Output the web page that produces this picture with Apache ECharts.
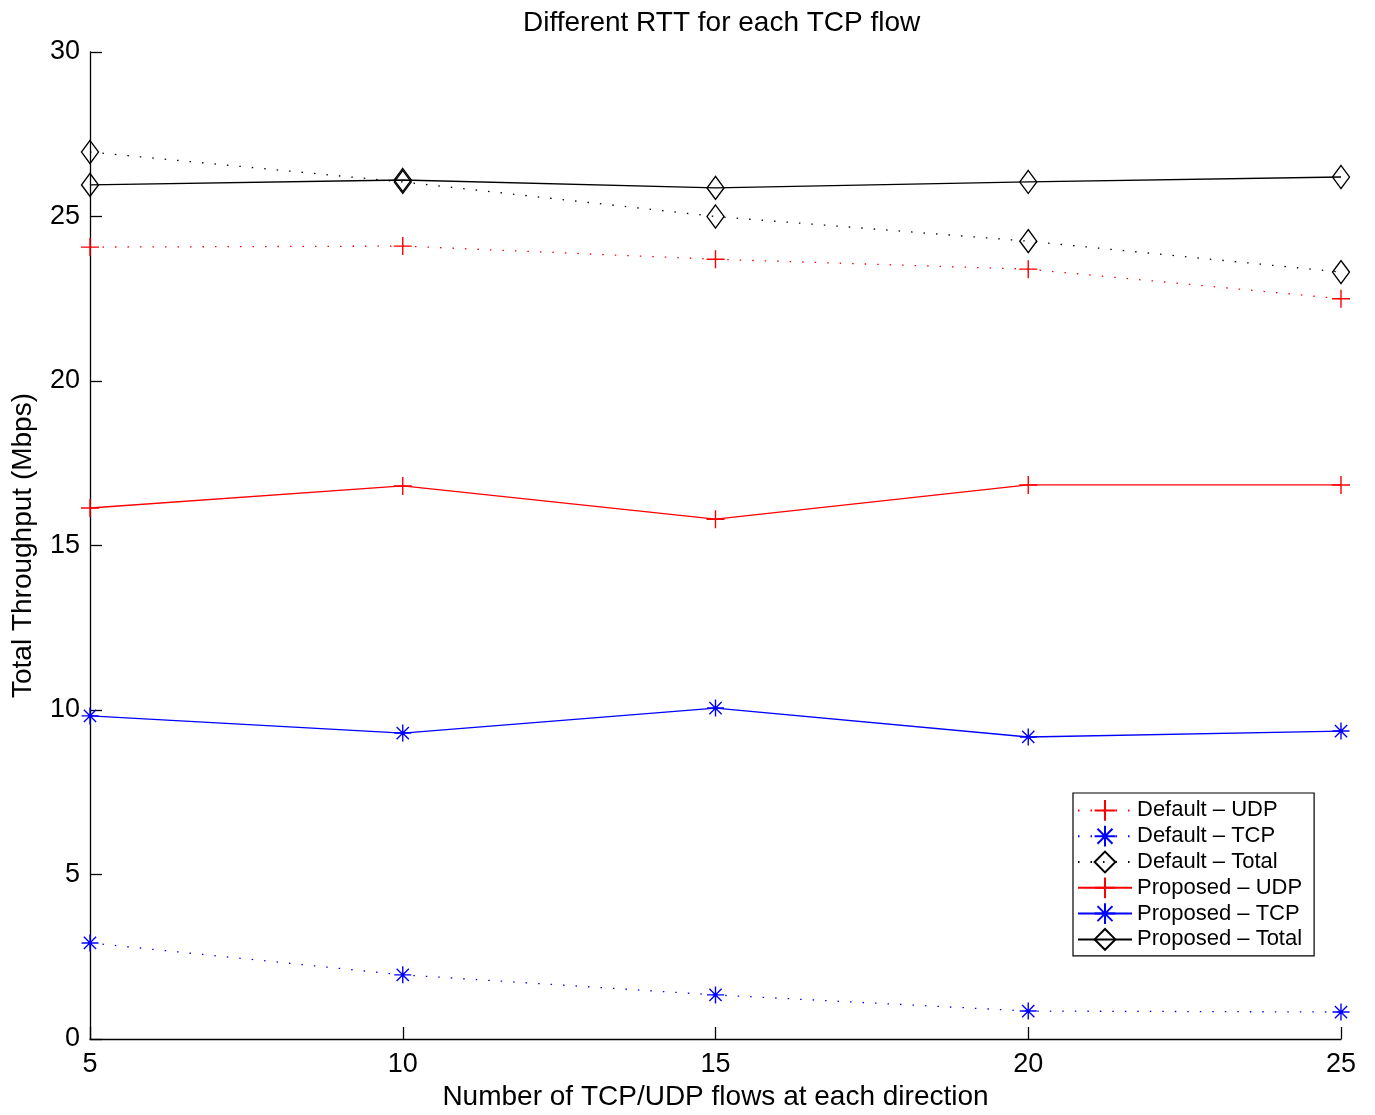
<!DOCTYPE html>
<html>
<head>
<meta charset="utf-8">
<script src="https://cdn.jsdelivr.net/npm/echarts@6/dist/echarts.min.js"></script>
<style>
  html, body { margin: 0; padding: 0; background: #fff; }
  #chart { width: 1375px; height: 1115px; }
</style>
</head>
<body>
<div id="chart"></div>
<script>
const flows = [5, 10, 15, 20, 25]
const defaultUdp = [24.07, 24.1, 23.7, 23.4, 22.5]
const defaultTcp = [2.92, 1.95, 1.34, 0.85, 0.82]
const defaultTotal = [26.96, 26.05, 25.0, 24.25, 23.31]
const proposedUdp = [16.14, 16.81, 15.8, 16.84, 16.84]
const proposedTcp = [9.82, 9.3, 10.06, 9.18, 9.36]
const proposedTotal = [25.96, 26.11, 25.87, 26.05, 26.2]

const FONT = 'Liberation Sans, Arial, sans-serif'
const PLUS = 'path://M0,-1L0,1M-1,0L1,0'
const STAR = 'path://M-1,0L1,0M0,-1L0,1M-0.72,-0.72L0.72,0.72M-0.72,0.72L0.72,-0.72'
const DOTS = [1.5, 11]

function pairs(vals) {
  return flows.map((x, i) => [x, vals[i]])
}

function makeSeries(name, vals, color, dotted, symbol, size) {
  return {
    name: name,
    type: 'line',
    data: pairs(vals),
    symbol: symbol,
    symbolSize: size,
    showAllSymbol: true,
    lineStyle: { color: color, width: 1.3, type: dotted ? DOTS : 'solid' },
    itemStyle: { color: 'rgba(0,0,0,0)', borderColor: color, borderWidth: 1.4 },
    emphasis: { disabled: true },
    animation: false
  }
}

const chart = echarts.init(document.getElementById('chart'))

chart.setOption({
  backgroundColor: '#fff',
  textStyle: { fontFamily: FONT },
  title: {
    text: 'Different RTT for each TCP flow',
    left: 518,
    top: 4,
    textStyle: { fontFamily: FONT, fontSize: 28, fontWeight: 'normal', color: '#000' }
  },
  legend: {
    orient: 'vertical',
    left: 1073,
    top: 793,
    padding: [6, 12, 5, 4],
    itemWidth: 54,
    itemHeight: 26,
    itemGap: 3,
    backgroundColor: '#fff',
    borderColor: '#000',
    borderWidth: 1.2,
    borderRadius: 0,
    textStyle: { fontFamily: FONT, fontSize: 22, color: '#000' },
    data: ['Default – UDP', 'Default – TCP', 'Default – Total',
      'Proposed – UDP', 'Proposed – TCP', 'Proposed – Total']
  },
  grid: { left: 90, right: 34, top: 52, bottom: 76, containLabel: false, outerBoundsMode: 'none' },
  xAxis: {
    type: 'value',
    min: 5,
    max: 25,
    interval: 5,
    name: 'Number of TCP/UDP flows at each direction',
    nameLocation: 'middle',
    nameGap: 44,
    nameTextStyle: { fontFamily: FONT, fontSize: 28, color: '#000' },
    axisLine: { lineStyle: { color: '#000', width: 1.3 } },
    axisTick: { inside: true, length: 12, lineStyle: { color: '#000', width: 1.3 } },
    axisLabel: { fontFamily: FONT, fontSize: 27, color: '#000', margin: 12 },
    splitLine: { show: false }
  },
  yAxis: {
    type: 'value',
    min: 0,
    max: 30,
    interval: 5,
    name: 'Total Throughput (Mbps)',
    nameLocation: 'middle',
    nameGap: 53,
    nameTextStyle: { fontFamily: FONT, fontSize: 28, color: '#000' },
    axisLine: { show: true, lineStyle: { color: '#000', width: 1.3 } },
    axisTick: { show: true, inside: true, length: 12, lineStyle: { color: '#000', width: 1.3 } },
    axisLabel: { fontFamily: FONT, fontSize: 27, color: '#000', margin: 10 },
    splitLine: { show: false }
  },
  series: [
    makeSeries('Default – UDP', defaultUdp, '#ff0000', true, PLUS, 18),
    makeSeries('Default – TCP', defaultTcp, '#0000ff', true, STAR, 17),
    makeSeries('Default – Total', defaultTotal, '#000000', true, 'diamond', [17, 23]),
    makeSeries('Proposed – UDP', proposedUdp, '#ff0000', false, PLUS, 18),
    makeSeries('Proposed – TCP', proposedTcp, '#0000ff', false, STAR, 17),
    makeSeries('Proposed – Total', proposedTotal, '#000000', false, 'diamond', [17, 23])
  ]
})
</script>
</body>
</html>
